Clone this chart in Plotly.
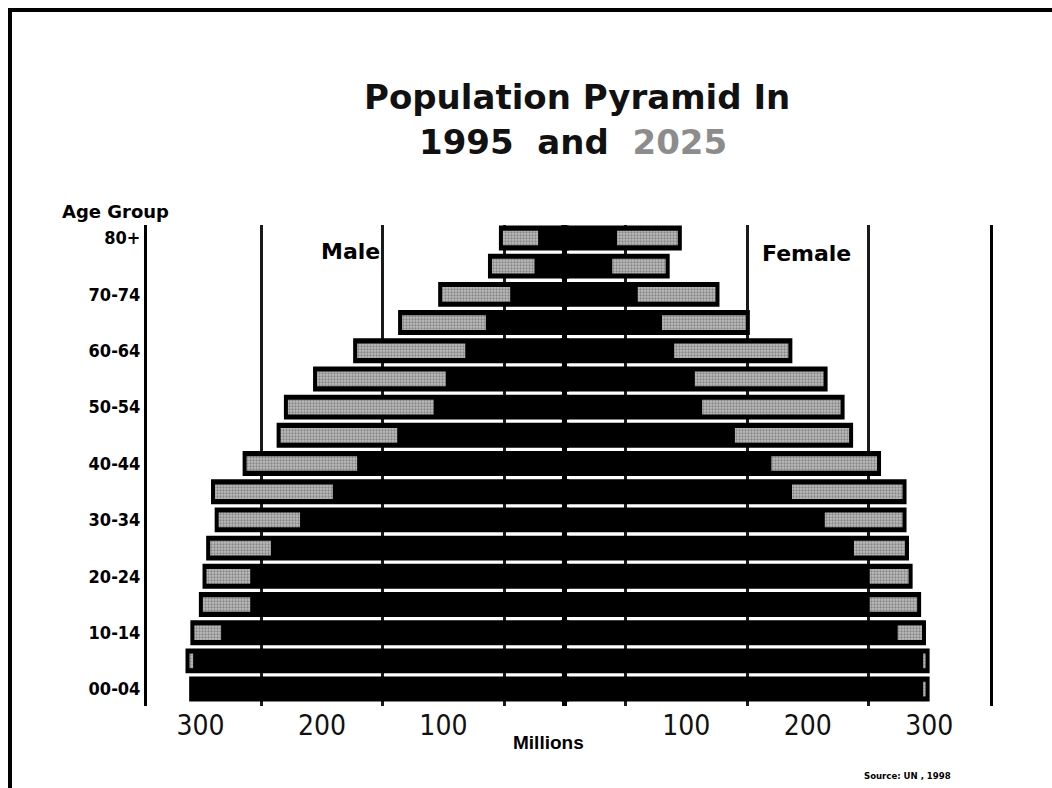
import plotly.graph_objects as go

# Age groups, youngest first (bottom of the pyramid)
age_groups = ["00-04", "05-09", "10-14", "15-19", "20-24", "25-29", "30-34", "35-39",
              "40-44", "45-49", "50-54", "55-59", "60-64", "65-69", "70-74", "75-79", "80+"]

# Population in millions
male_1995 = [306, 306, 283, 259, 259, 242, 218, 191, 171, 138, 108, 98, 82, 65, 45, 25, 22]
male_2025 = [306, 309, 305, 298, 295, 292, 285, 288, 262, 234, 228, 204, 171, 134, 101, 60, 51]
female_1995 = [295, 295, 274, 251, 251, 238, 214, 187, 170, 140, 113, 107, 90, 80, 60, 39, 43]
female_2025 = [297, 297, 294, 290, 283, 280, 278, 278, 257, 234, 227, 213, 184, 149, 124, 83, 93]

# Only every other age group is labelled on the vertical axis
labelled_groups = ["00-04", "10-14", "20-24", "30-34", "40-44", "50-54", "60-64", "70-74", "80+"]

# Horizontal axis: labels every 100, guide lines half-way between
tick_values = [-300, -200, -100, 100, 200, 300]
tick_labels = ["300", "200", "100", "100", "200", "300"]
guide_values = [-250, -150, -50, 50, 150, 250]

W, H = 1052, 788
L, R, T, B = 147, 990, 225, 706  # plot area in pixels

BOLD_WIDE = "DejaVu Sans, Liberation Sans, sans-serif"
NARROW = "Liberation Sans Narrow, DejaVu Sans Condensed, Liberation Sans, sans-serif"


def px_x(px):
    return (px - L) / (R - L)


def px_y(py):
    return (B - py) / (B - T)


male_outer = [max(a, b) for a, b in zip(male_1995, male_2025)]
female_outer = [max(a, b) for a, b in zip(female_1995, female_2025)]
male_growth = [b - a for a, b in zip(male_1995, male_2025)]
female_growth = [b - a for a, b in zip(female_1995, female_2025)]

grey_fill = dict(color="#a0a0a0", line=dict(width=0),
                 pattern=dict(shape=".", fgcolor="#505050", bgcolor="#bdbdbd", size=3, solidity=0.45))

fig = go.Figure()

# Black bars: full extent of each age group
fig.add_trace(go.Bar(
    y=age_groups, x=[-v for v in male_outer], orientation="h", width=0.6,
    marker=dict(color="#000000", line=dict(color="#000000", width=8)),
    name="Male", showlegend=False, hoverinfo="skip"))
fig.add_trace(go.Bar(
    y=age_groups, x=female_outer, orientation="h", width=0.6,
    marker=dict(color="#000000", line=dict(color="#000000", width=8)),
    name="Female", showlegend=False, hoverinfo="skip"))

# Grey bars: growth between 1995 and 2025
fig.add_trace(go.Bar(
    y=age_groups, x=male_growth, base=[-v for v in male_2025], orientation="h", width=0.52,
    marker=grey_fill, name="Male growth", showlegend=False, hoverinfo="skip"))
fig.add_trace(go.Bar(
    y=age_groups, x=female_growth, base=female_1995, orientation="h", width=0.52,
    marker=grey_fill, name="Female growth", showlegend=False, hoverinfo="skip"))

fig.update_layout(
    width=W, height=H, autosize=False,
    margin=dict(l=L, r=W - R, t=T, b=H - B, pad=0),
    paper_bgcolor="white", plot_bgcolor="white",
    barmode="overlay",
    showlegend=False,
    font=dict(family="Liberation Sans, Arial, sans-serif", color="#000000"),
)

fig.update_xaxes(
    range=[-344, 350],
    tickmode="array", tickvals=tick_values, ticktext=tick_labels,
    showgrid=False, ticks="",
    tickfont=dict(size=28, color="#111111", family=NARROW),
    zeroline=True, zerolinecolor="#000000", zerolinewidth=5,
    showline=False,
    minor=dict(tickmode="array", tickvals=guide_values, showgrid=True,
               gridcolor="#1a1a1a", gridwidth=2.5, ticks=""),
)

fig.update_yaxes(
    type="category", categoryorder="array", categoryarray=age_groups,
    range=[-0.6, 16.46],
    tickmode="array", tickvals=labelled_groups,
    ticktext=["<b>%s</b>" % g for g in labelled_groups],
    tickfont=dict(size=18, color="#000000", family=NARROW),
    showgrid=False, zeroline=False, ticks="",
    showline=True, linecolor="#000000", linewidth=3, mirror=True,
)

annotations = [
    dict(text="<b>Population Pyramid In</b>", x=px_x(577), y=px_y(97),
         font=dict(size=34, color="#111111", family=BOLD_WIDE)),
    dict(text="<b>1995  and  </b><b><span style='color:#8c8c8c'>2025</span></b>", x=px_x(573), y=px_y(142),
         font=dict(size=34, color="#111111", family=BOLD_WIDE)),
    dict(text="<b>Age Group</b>", x=px_x(115), y=px_y(211),
         font=dict(size=18, color="#000000", family=BOLD_WIDE)),
    dict(text="<b>Male</b>", x=px_x(350), y=px_y(252),
         font=dict(size=22, color="#000000", family=BOLD_WIDE)),
    dict(text="<b>Female</b>", x=px_x(806), y=px_y(253),
         font=dict(size=22, color="#000000", family=BOLD_WIDE)),
    dict(text="<b>Millions</b>", x=px_x(548), y=px_y(742),
         font=dict(size=19, color="#000000")),
    dict(text="<b>Source: UN , 1998</b>", x=px_x(907), y=px_y(775),
         font=dict(size=9.5, color="#000000", family=NARROW)),
]
for a in annotations:
    a.update(xref="paper", yref="paper", showarrow=False, xanchor="center", yanchor="middle")
fig.update_layout(annotations=annotations)

# Page frame: top and left rules
fig.update_layout(shapes=[
    dict(type="line", xref="paper", yref="paper",
         x0=px_x(8), x1=px_x(W), y0=px_y(10), y1=px_y(10),
         line=dict(color="#000000", width=4)),
    dict(type="line", xref="paper", yref="paper",
         x0=px_x(10), x1=px_x(10), y0=px_y(8), y1=px_y(H),
         line=dict(color="#000000", width=4)),
])

fig.write_html("out.html")
